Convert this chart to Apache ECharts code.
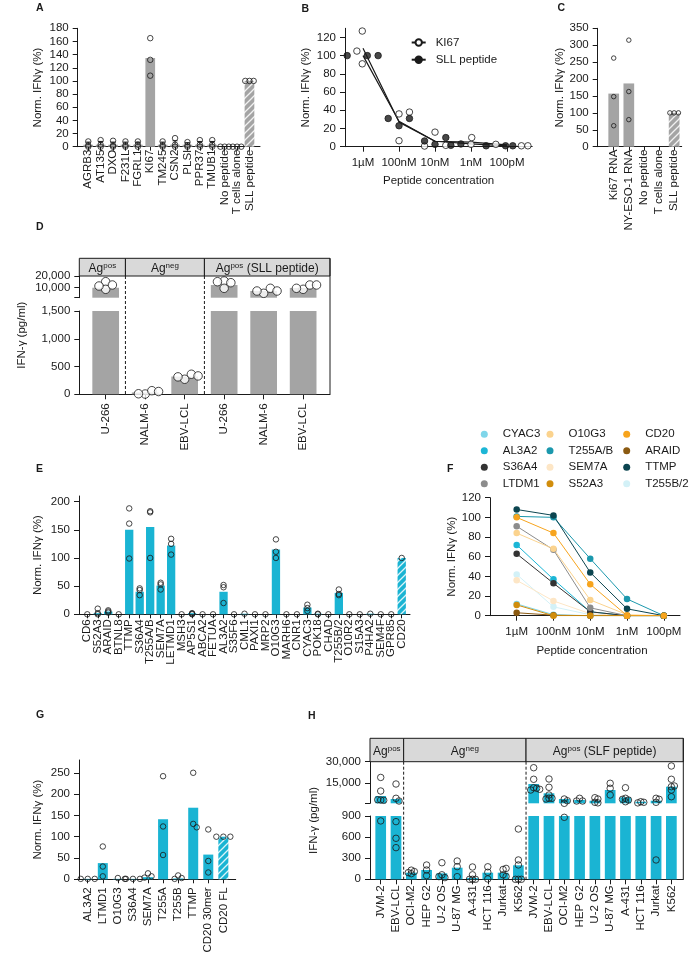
<!DOCTYPE html>
<html><head><meta charset="utf-8">
<script src="https://cdn.jsdelivr.net/npm/echarts@6.0.0/dist/echarts.min.js"></script>
<style>html,body{margin:0;padding:0;background:#fff}#c{width:700px;height:958px}</style>
</head><body><div id="c"></div>
<script>
// ================= DATA =================
const aCategories = ['AGRB3','AT135','DXO','F231L','FGRL1','KI67','TM245','CSN2','PLSI','PPR37','TMUB1','No peptide','T cells alone','SLL peptide'];
const aBarValues = [3,3,3,3,3,135,3,3,3,3,3,0,0,100];
const aPointValues = [[8,2,0],[10,3,0],[9,2,0],[8,2,0],[8,3,0],[165,132,108],[8,2,0],[13,3,0],[7,2,0],[10,3,0],[10,3,0],[0,0,0],[0,0,0],[100,100,100]];
const aErrorSD = [4,5,4,4,4,0,4,6,3,5,5,0,0,0];
const aYTicks = [0,20,40,60,80,100,120,140,160,180];

const bConcLabels = ['1µM','100nM','10nM','1nM','100pM'];
const bKi67Mean = [108,27,6,5,2];
const bSllMean = [100,28,6,3,1];
const bKi67Points = [[-0.17,105],[-0.02,127],[-0.02,91],[1.0,36],[1.0,6.6],[1.29,38],[1.71,0.7],[2.0,16],[2.3,1.5],[3.02,10],[3.0,2.6],[3.69,2.6],[4.4,1],[4.58,1]];
const bSllPoints = [[-0.44,100],[0.12,100],[0.42,100],[0.70,31],[1.0,23],[1.29,31],[1.71,6.3],[2.0,2.6],[2.30,10],[2.44,1.5],[2.72,3],[3.42,1],[3.96,1],[4.16,1]];
const bYTicks = [0,20,40,60,80,100,120];

const cCategories = ['Ki67 RNA','NY-ESO-1 RNA','No peptide','T cells alone','SLL peptide'];
const cBarValues = [157,187,0,0,100];
const cPointValues = [[262,148,62],[315,163,80],[],[],[100,100,100]];
const cYTicks = [0,50,100,150,200,250,300,350];

const dCategories = ['U-266','NALM-6','EBV-LCL','U-266','NALM-6','EBV-LCL'];
const dBarValues = [10000,33,320,12300,7200,9800];
const dPointValues = [[15140,8660,12330,11470],[5,65,10,50],[271,361,314,331],[15740,9510,14290,15140],[5250,9510,7210,7210],[8660,12330,9510,12330]];
const dGroups = [[0,0],[1,2],[3,5]];
const dGroupLabels = [['Ag','pos',''],['Ag','neg',''],['Ag','pos',' (SLL peptide)']];
const dUpperTickLabels = [10000,20000];
const dUpperTicks = [1500,10000,20000];
const dLowerTicks = [0,500,1000,1500];

const eCategories = ['CD6','S52A3','ARAID','BTNL8','TTMP','S36A4','T255A/B','SEM7A','LETMD1','MSH3','AP5S1','ABCA2','FETUA','AL3A2','S35F6','CML1','PAXI1','MRP2','O10G3','MARH6','CNR1','CYAC3','POK18','CHAD','T255B/2','O10R2','S15A3','P4HA2','SEM4F','GPR85','CD20'];
const eBarValues = [0,2,5,0,150,40,155,51,122,0,2,0,0,40,0,1,0,0,115,0,0,12,1,0,38,0,0,1,0,0,100];
const ePointValues = [[0],[10,2,0],[7,5,3],[0],[188,161,99],[46,43,34],[183,181,100],[56,53,44],[134,125,106],[0],[2,1,0],[0],[0],[52,48,20],[0],[1],[0],[0],[133,111,100],[0],[0],[17,11,6],[1,0],[0],[44,36,34],[0],[0],[1],[0],[0],[100]];
const eYTicks = [0,50,100,150,200];

const fConcLabels = ['1µM','100nM','10nM','1nM','100pM'];
const fTTMP   = [108,102,44,7,0];
const fT255AB = [101,100,58,17,0];
const fCD20   = [100,84,32,0,0];
const fLTDM1  = [91,67,8,0,0];
const fO10G3  = [84,68,16,1,0];
const fAL3A2  = [72,37,4,0,0];
const fS36A4  = [63,33,4,0,0];
const fT255B2 = [42,9,1,0,0];
const fSEM7A  = [36,15,2,0,0];
const fCYAC3  = [12,1,0,0,0];
const fS52A3  = [11,0,0,0,0];
const fARAID  = [3,0.5,0,0,0];
const fYTicks = [0,20,40,60,80,100,120];
const fLegendCol1 = ['CYAC3','AL3A2','S36A4','LTDM1'];
const fLegendCol2 = ['O10G3','T255A/B','SEM7A','S52A3'];
const fLegendCol3 = ['CD20','ARAID','TTMP','T255B/2'];

const gCategories = ['AL3A2','LTMD1','O10G3','S36A4','SEM7A','T255A','T255B','TTMP','CD20 30mer','CD20 FL'];
const gBarValues = [1,38,1,1,5,141,2,168,58,100];
const gPointValues = [[1,1,1],[77,30,7],[3,1],[1,1,1],[14,7,4],[242,124,57],[9,3,1],[250,130,122],[117,43,16],[100,100,100]];
const gYTicks = [0,50,100,150,200,250];

const hCategories = ['JVM-2','EBV-LCL','OCI-M2','HEP G2','U-2 OS','U-87 MG','A-431','HCT 116','Jurkat','K562','JVM-2','EBV-LCL','OCI-M2','HEP G2','U-2 OS','U-87 MG','A-431','HCT 116','Jurkat','K562'];
const hBarValues = [6000,3900,94,132,85,165,20,94,94,199,14400,7900,3900,3200,2700,10200,5100,2000,2700,12500];
const hPointValues = [
  [19000,9500,3200,3000,3400,830],
  [14400,4400,2500,820,583,450],
  [130,110,95,80],
  [203,132,52],
  [236,64,24,38],
  [260,180,38],
  [175,64,0,0,0],
  [178,100,5],
  [140,155,64,40],
  [715,275,204,0,0,0],
  [25800,17700,11800,11400,10200,10700],
  [17900,12100,6700,4400,4400,3900],
  [3900,2700,881],
  [4400,2500,2500],
  [4800,3900,1600,1200],
  [14900,11400,6700],
  [11800,4400,3200,3700,2000],
  [2000,1600,1200],
  [4400,3700,1600,275],
  [27000,17700,12500,10200,5500,13000]
];
const hGroups = [[0,1],[2,9],[10,19]];
const hGroupLabels = [['Ag','pos',''],['Ag','neg',''],['Ag','pos',' (SLF peptide)']];
const hUpperTickLabels = [15000,30000];
const hUpperTicks = [900,15000,30000];
const hLowerTicks = [0,300,600,900];

// ================= STYLE / LAYOUT =================
const FONT = '"Liberation Sans", Arial, sans-serif';
const INK = '#1a1a1a';
const GRAY = '#a4a4a4';
const CYAN = '#1ab4d3';
const HEAD = '#d9d9d9';
const FS = 11.5;
const fColors = {'CYAC3':'#7fd6ea','AL3A2':'#1cb6d6','S36A4':'#333333','LTDM1':'#8c8c8c','O10G3':'#fbd38e','T255A/B':'#1b98ad','SEM7A':'#fde6c6','S52A3':'#d18d0c','CD20':'#f7a41d','ARAID':'#8b5a12','TTMP':'#0c4550','T255B/2':'#d3f1f7'};
const fValues = {'TTMP':fTTMP,'T255A/B':fT255AB,'CD20':fCD20,'LTDM1':fLTDM1,'O10G3':fO10G3,'AL3A2':fAL3A2,'S36A4':fS36A4,'T255B/2':fT255B2,'SEM7A':fSEM7A,'CYAC3':fCYAC3,'S52A3':fS52A3,'ARAID':fARAID};
const fDrawOrder = ['T255B/2','SEM7A','CYAC3','AL3A2','S36A4','LTDM1','O10G3','ARAID','S52A3','T255A/B','TTMP','CD20'];

const LAY = {
  A:{left:77.7, top:28.3, width:182.3, height:118.4, xMin:-0.85, xMax:13.85, yMax:180, band:12.4},
  B:{left:345, top:28.3, width:187.2, height:118.4, xMin:-0.5, xMax:4.7, yMax:130},
  C:{left:597.7, top:28.3, width:84, height:118.4, xMin:-1.06, xMax:4.5, yMax:350, band:15.1},
  D:{left:79.3, width:250.7, xMin:-0.668, xMax:5.68, band:39.5, headH:17.7, upTop:276, upH:21.7, upMin:1500, upMax:20000, loTop:311, loH:83.3, loMax:1500},
  E:{left:79, top:496, width:331, height:118.3, xMin:-0.79, xMax:30.79, yMax:210, band:10.48},
  F:{left:490, top:497.7, width:190, height:118, xMin:-0.725, xMax:4.44, yMax:120},
  G:{left:79, top:760, width:156.7, height:119.3, xMin:-0.58, xMax:9.82, yMax:280, band:15.07},
  H:{left:370, width:313.3, xMin:-0.7, xMax:19.78, band:15.3, headH:23.4, upTop:761.7, upH:41.6, upMin:900, upMax:30000, loTop:816, loH:63.3, loMax:900}
};

// ================= HELPERS =================
const grids = [], xAxes = [], yAxes = [], series = [];
function addGrid(g) { grids.push(Object.assign({outerBoundsMode:'none', containLabel:false}, g)); return grids.length - 1; }
function pushX(list) { const f = xAxes.length; list.forEach(a => xAxes.push(a)); return f; }
function pushY(list) { const f = yAxes.length; list.forEach(a => yAxes.push(a)); return f; }
const axisLineStyle = {color:INK, width:1};
const fmt = v => Number(v).toLocaleString('en-US');
const evens = arr => arr.filter((_, i) => i % 2 === 0);
const odds = arr => arr.filter((_, i) => i % 2 === 1);
const labelBase = {fontSize:FS, color:INK, fontFamily:FONT, showMinLabel:true, showMaxLabel:true, hideOverlap:false};

function stripePattern(bg) {
  const c = document.createElement('canvas'); c.width = c.height = 7;
  const g = c.getContext('2d');
  g.fillStyle = bg; g.fillRect(0,0,7,7);
  g.strokeStyle = 'rgba(255,255,255,0.85)'; g.lineWidth = 1.3;
  g.beginPath();
  g.moveTo(-1,8); g.lineTo(8,-1);
  g.moveTo(-1,1); g.lineTo(1,-1);
  g.moveTo(6,8); g.lineTo(8,6);
  g.stroke();
  return {image:c, repeat:'repeat'};
}

// category-like x axis on a value scale; labels split over two overlaid axes so none is dropped
function catXAxes(gi, cats, min, max, margin, tickLen) {
  const idx = cats.map((_, i) => i);
  const lab = vals => Object.assign({show:true, customValues:vals, rotate:90, margin,
    formatter: v => cats[Math.round(v)]}, labelBase);
  return [
    {gridIndex:gi, type:'value', min, max, position:'bottom',
      axisLine:{show:true, onZero:false, lineStyle:axisLineStyle},
      axisTick:{show:true, customValues:idx, length:tickLen || 4, lineStyle:axisLineStyle},
      axisLabel:lab(evens(idx)), splitLine:{show:false}},
    {gridIndex:gi, type:'value', min, max, position:'bottom',
      axisLine:{show:false, onZero:false}, axisTick:{show:false},
      axisLabel:lab(odds(idx)), splitLine:{show:false}}
  ];
}
function valYAxes(gi, min, max, ticks, labels, name, nameGap) {
  const lab = vals => Object.assign({show:true, customValues:vals, margin:9, formatter:fmt}, labelBase);
  return [
    {gridIndex:gi, type:'value', min, max, position:'left',
      axisLine:{show:true, onZero:false, lineStyle:axisLineStyle},
      axisTick:{show:true, customValues:ticks, length:5, lineStyle:axisLineStyle},
      axisLabel:lab(evens(labels)), splitLine:{show:false},
      name: name || '', nameLocation:'middle', nameGap: nameGap || 0,
      nameTextStyle:{fontSize:FS, color:INK, fontFamily:FONT}},
    {gridIndex:gi, type:'value', min, max, position:'left',
      axisLine:{show:false, onZero:false}, axisTick:{show:false},
      axisLabel:lab(odds(labels)), splitLine:{show:false}}
  ];
}
function concXAxis(gi, L, labels, nameGap, namePad) {
  const idx = labels.map((_, i) => i);
  return {gridIndex:gi, type:'value', min:L.xMin, max:L.xMax, position:'bottom',
    axisLine:{show:true, onZero:false, lineStyle:axisLineStyle},
    axisTick:{show:true, customValues:idx, length:5, lineStyle:axisLineStyle},
    axisLabel:Object.assign({customValues:idx, margin:10, formatter:v => labels[Math.round(v)]}, labelBase),
    splitLine:{show:false},
    name:'Peptide concentration', nameLocation:'middle', nameGap,
    nameTextStyle:{fontSize:FS, color:INK, fontFamily:FONT, padding:[0,0,0,namePad]}};
}
function swarmOffsets(values, toPx, thr, step, band) {
  const placed = [];
  return values.map(v => {
    const y = toPx(v);
    let chosen = 0;
    if (thr > 0) {
      const cands = [0];
      for (let m = 1; m < 12; m++) cands.push(m * step, -m * step);
      for (const c of cands) {
        if (placed.every(p => Math.hypot(p.x - c, p.y - y) >= thr)) { chosen = c; break; }
      }
    }
    placed.push({x:chosen, y});
    return chosen / band;
  });
}
function pointsData(lists, toPx, thr, step, band) {
  const out = [];
  lists.forEach((vals, i) => {
    const offs = swarmOffsets(vals, toPx, thr, step, band);
    vals.forEach((v, k) => out.push([i + offs[k], v]));
  });
  return out;
}
const openDot = {color:'rgba(0,0,0,0)', borderColor:INK, borderWidth:1};

function simplePanel(key, cats, bars, pts, hatchIdx, color, yTicks, opt) {
  const L = LAY[key];
  const gi = addGrid({left:L.left, top:L.top, width:L.width, height:L.height});
  const xi = pushX(catXAxes(gi, cats, L.xMin, L.xMax, opt.labelMargin));
  const yi = pushY(valYAxes(gi, 0, L.yMax, yTicks, yTicks, 'Norm. IFNγ (%)', opt.nameGap));
  const pat = stripePattern(color);
  series.push({type:'bar', xAxisIndex:xi, yAxisIndex:yi, barWidth:opt.barWidth, itemStyle:{color},
    data: bars.map((v, i) => i === hatchIdx ? {value:[i, v], itemStyle:{color:pat}} : [i, v])});
  const toPx = v => L.top + L.height - v / L.yMax * L.height;
  series.push({type:'scatter', xAxisIndex:xi, yAxisIndex:yi, symbolSize:opt.dot, itemStyle:openDot, z:3,
    data: pointsData(pts, toPx, opt.thr, opt.step, L.band)});
  return {xi, yi};
}

function headerRenderer(groups, labels, headH, textDy) {
  return function (params, api) {
    const cs = params.coordSys;
    const i = params.dataIndex;
    const g = groups[i];
    const last = i === groups.length - 1;
    const x0 = i === 0 ? cs.x : api.coord([g[0] - 0.5, 0])[0];
    const x1 = last ? cs.x + cs.width : api.coord([g[1] + 0.5, 0])[0];
    const lab = labels[i];
    const txt = '{a|' + lab[0] + '}{s|' + lab[1] + '}' + (lab[2] ? '{a|' + lab[2] + '}' : '');
    return {type:'group', children:[
      {type:'rect', shape:{x:x0, y:cs.y - headH, width:x1 - x0, height:headH}, style:{fill:HEAD, stroke:INK, lineWidth:1}},
      {type:'text', style:{text:txt, x:(x0 + x1) / 2, y:cs.y - headH / 2 + textDy, align:'center', verticalAlign:'middle',
        rich:{a:{fontSize:12, fontFamily:FONT, fill:INK, lineHeight:14}, s:{fontSize:8, fontFamily:FONT, fill:INK, verticalAlign:'top', lineHeight:8}}}},
      last ? {type:'line', shape:{x1:x1, y1:cs.y - headH, x2:x1, y2:cs.y + cs.height}, style:{stroke:INK, lineWidth:1}}
           : {type:'line', shape:{x1:x1, y1:cs.y, x2:x1, y2:cs.y + cs.height}, style:{stroke:INK, lineWidth:1, lineDash:[3,2]}}
    ]};
  };
}

function brokenPanel(key, cats, bars, pts, groups, groupLabels, upTicks, upLabels, loTicks, color, opt) {
  const L = LAY[key];
  const gF = addGrid({left:L.left, top:L.upTop, width:L.width, height:L.loTop + L.loH - L.upTop});
  const fx = pushX([{gridIndex:gF, type:'value', min:L.xMin, max:L.xMax, show:false}]);
  const fy = pushY([{gridIndex:gF, type:'value', min:0, max:1, axisLine:{show:false, onZero:false}, axisTick:{show:false}, axisLabel:{show:false}, splitLine:{show:false},
    name:'IFN-γ (pg/ml)', nameLocation:'middle', nameGap:opt.nameGap, nameTextStyle:{fontSize:FS, color:INK, fontFamily:FONT}}]);
  series.push({type:'custom', xAxisIndex:fx, yAxisIndex:fy, clip:false, silent:true, z:4,
    renderItem: headerRenderer(groups, groupLabels, L.headH, opt.textDy),
    data: groups.map(g => [g[0], 0])});
  const gU = addGrid({left:L.left, top:L.upTop, width:L.width, height:L.upH});
  const ux = pushX([{gridIndex:gU, type:'value', min:L.xMin, max:L.xMax, show:false}]);
  const uy = pushY(valYAxes(gU, L.upMin, L.upMax, upTicks, upLabels));
  const gL = addGrid({left:L.left, top:L.loTop, width:L.width, height:L.loH});
  const lx = pushX(catXAxes(gL, cats, L.xMin, L.xMax, opt.labelMargin, 5));
  const ly = pushY(valYAxes(gL, 0, L.loMax, loTicks, loTicks));

  const toPx = v => v > L.upMin
    ? L.upTop + L.upH - (v - L.upMin) / (L.upMax - L.upMin) * L.upH
    : L.loTop + L.loH - v / L.loMax * L.loH;
  const pdata = pointsData(pts, toPx, opt.thr, opt.step, L.band);
  const bdata = bars.map((v, i) => [i, v]);
  [[ux, uy], [lx, ly]].forEach(([xi, yi]) => {
    series.push({type:'bar', xAxisIndex:xi, yAxisIndex:yi, barWidth:opt.barWidth, itemStyle:{color}, data:bdata});
    series.push({type:'scatter', xAxisIndex:xi, yAxisIndex:yi, symbolSize:opt.dot, itemStyle:opt.dotStyle, z:3, data:pdata});
  });
}

// ================= PANELS =================
const pA = simplePanel('A', aCategories, aBarValues, aPointValues, 13, GRAY, aYTicks,
  {labelMargin:3, nameGap:34, barWidth:9.7, dot:5.5, thr:1, step:4.2});
series.push({type:'custom', xAxisIndex:pA.xi, yAxisIndex:pA.yi, z:2, silent:true,
  renderItem:(p, api) => {
    const x = api.value(0), m = api.value(1), s = api.value(2);
    if (!s) return null;
    const t = api.coord([x, m + s]), b = api.coord([x, Math.max(0, m - s)]);
    return {type:'group', children:[
      {type:'line', shape:{x1:t[0], y1:t[1], x2:b[0], y2:b[1]}, style:{stroke:INK, lineWidth:1}},
      {type:'line', shape:{x1:t[0] - 2.5, y1:t[1], x2:t[0] + 2.5, y2:t[1]}, style:{stroke:INK, lineWidth:1}}
    ]};
  },
  data: aBarValues.map((m, i) => [i, m, aErrorSD[i]])});

(function () {
  const L = LAY.B;
  const gi = addGrid({left:L.left, top:L.top, width:L.width, height:L.height});
  const xi = pushX([concXAxis(gi, L, bConcLabels, 28.5, 0)]);
  const yi = pushY(valYAxes(gi, 0, L.yMax, bYTicks, bYTicks, 'Norm. IFNγ (%)', 33));
  series.push({type:'line', name:'KI67', xAxisIndex:xi, yAxisIndex:yi, showSymbol:false, symbol:'circle',
    lineStyle:{color:INK, width:1.2}, itemStyle:{color:'#fff', borderColor:INK, borderWidth:1},
    data:bKi67Mean.map((v, i) => [i, v])});
  series.push({type:'line', name:'SLL peptide', xAxisIndex:xi, yAxisIndex:yi, showSymbol:false, symbol:'circle',
    lineStyle:{color:INK, width:1.2}, itemStyle:{color:INK, borderColor:INK, borderWidth:1},
    data:bSllMean.map((v, i) => [i, v])});
  series.push({type:'scatter', xAxisIndex:xi, yAxisIndex:yi, symbolSize:6.5, z:3,
    itemStyle:{color:'#fff', borderColor:INK, borderWidth:1}, data:bKi67Points});
  series.push({type:'scatter', xAxisIndex:xi, yAxisIndex:yi, symbolSize:6.5, z:3,
    itemStyle:{color:INK, borderColor:INK, borderWidth:1}, data:bSllPoints});
})();

simplePanel('C', cCategories, cBarValues, cPointValues, 4, GRAY, cYTicks,
  {labelMargin:3, nameGap:29, barWidth:10.7, dot:4.5, thr:1, step:4.3});

brokenPanel('D', dCategories, dBarValues, dPointValues, dGroups, dGroupLabels, dUpperTicks, dUpperTickLabels, dLowerTicks, GRAY,
  {nameGap:51.5, labelMargin:9, barWidth:26.7, dot:8.5, dotStyle:{color:'#fff', borderColor:INK, borderWidth:1}, thr:6, step:6.7, textDy:2});

simplePanel('E', eCategories, eBarValues, ePointValues, 30, CYAN, eYTicks,
  {labelMargin:5, nameGap:35, barWidth:8.3, dot:5.5, thr:0, step:0});

(function () {
  const L = LAY.F;
  const gi = addGrid({left:L.left, top:L.top, width:L.width, height:L.height});
  const xi = pushX([concXAxis(gi, L, fConcLabels, 29.5, 14)]);
  const yi = pushY(valYAxes(gi, 0, L.yMax, fYTicks, fYTicks, 'Norm. IFNγ (%)', 28));
  fDrawOrder.forEach(name => {
    series.push({type:'line', name, xAxisIndex:xi, yAxisIndex:yi, symbol:'circle', symbolSize:6.5, showSymbol:true,
      lineStyle:{color:fColors[name], width:1}, itemStyle:{color:fColors[name]},
      data:fValues[name].map((v, i) => [i, v])});
  });
})();

simplePanel('G', gCategories, gBarValues, gPointValues, 9, CYAN, gYTicks,
  {labelMargin:8, nameGap:35, barWidth:10, dot:5.5, thr:4, step:3.5});

brokenPanel('H', hCategories, hBarValues, hPointValues, hGroups, hGroupLabels, hUpperTicks, hUpperTickLabels, hLowerTicks, CYAN,
  {nameGap:50, labelMargin:6, barWidth:10.7, dot:6.5, dotStyle:openDot, thr:3, step:3, textDy:2});

// ================= LEGENDS / LETTERS =================
const legTxt = (pad) => ({fontSize:FS, color:INK, fontFamily:FONT, padding:[0,0,0,pad]});
const legends = [
  {data:['KI67','SLL peptide'], orient:'vertical', left:410.7, top:36.5, itemWidth:14, itemHeight:8, itemGap:5.2, padding:0, selectedMode:false, textStyle:legTxt(5)},
  {data:fLegendCol1, orient:'vertical', left:480.8, top:428.3, icon:'circle', itemWidth:7, itemHeight:7, itemGap:4.5, padding:0, selectedMode:false, textStyle:legTxt(10)},
  {data:fLegendCol2, orient:'vertical', left:546.5, top:428.3, icon:'circle', itemWidth:7, itemHeight:7, itemGap:4.5, padding:0, selectedMode:false, textStyle:legTxt(10)},
  {data:fLegendCol3, orient:'vertical', left:623.2, top:428.3, icon:'circle', itemWidth:7, itemHeight:7, itemGap:4.5, padding:0, selectedMode:false, textStyle:legTxt(10)}
];
const letters = [['A',36,3],['B',301.5,4],['C',557.5,3],['D',36,222],['E',36,464],['F',447,464],['G',36,710],['H',308,711]];

const chart = echarts.init(document.getElementById('c'), null, {renderer:'canvas', width:700, height:958});
chart.setOption({
  animation:false,
  backgroundColor:'#fff',
  textStyle:{fontFamily:FONT},
  grid:grids, xAxis:xAxes, yAxis:yAxes, series,
  legend:legends,
  graphic:letters.map(l => ({type:'text', left:l[1], top:l[2], style:{text:l[0], font:'bold 10.5px ' + FONT, fill:INK}}))
});
</script></body></html>
